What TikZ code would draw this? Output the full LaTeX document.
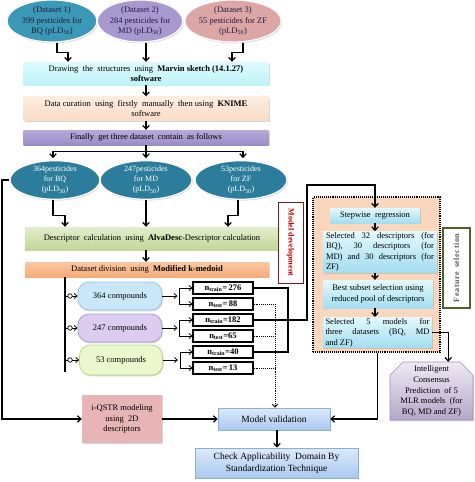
\documentclass[tikz,border=0pt]{standalone}
\usepackage{fontspec}
\setmainfont{Liberation Serif}
\usetikzlibrary{arrows.meta,shapes.geometric,shadows,calc}
\definecolor{dsa}{HTML}{3B98B6}
\definecolor{dsb}{HTML}{A798CF}
\definecolor{dsc}{HTML}{DDA6A6}
\definecolor{navytext}{HTML}{1E1E3C}
\definecolor{teal2}{HTML}{2B7D9B}
\definecolor{mvtop}{HTML}{DDFBFD}
\definecolor{mvbot}{HTML}{BFF2F8}
\definecolor{cutop}{HTML}{FDEDE0}
\definecolor{cubot}{HTML}{FADCC6}
\definecolor{fitop}{HTML}{B7A9DA}
\definecolor{fibot}{HTML}{9C8CC6}
\definecolor{detop}{HTML}{E3EECD}
\definecolor{debot}{HTML}{C2D697}
\definecolor{dvtop}{HTML}{FAC8A2}
\definecolor{dvbot}{HTML}{F4AB78}
\definecolor{cmpa}{HTML}{C9E7F8}
\definecolor{cmpab}{HTML}{96C6E6}
\definecolor{cmpb}{HTML}{DCCDF0}
\definecolor{cmpbb}{HTML}{AB9BD0}
\definecolor{cmpc}{HTML}{EAF8CC}
\definecolor{cmpcb}{HTML}{BCD58A}
\definecolor{peach}{HTML}{FAD6BC}
\definecolor{cytop}{HTML}{E3F9FD}
\definecolor{cybot}{HTML}{A2DDF0}
\definecolor{mdred}{HTML}{7A1C1C}
\definecolor{mdtext}{HTML}{C00000}
\definecolor{olivebd}{HTML}{4F6228}
\definecolor{fstext}{HTML}{595959}
\definecolor{ictop}{HTML}{EEE8F4}
\definecolor{icbot}{HTML}{B4A8C8}
\definecolor{icbd}{HTML}{9C90B4}
\definecolor{pinkbox}{HTML}{E7B5B5}
\definecolor{bltop}{HTML}{DCEAFB}
\definecolor{blbot}{HTML}{A9C8EF}
\definecolor{blbd}{HTML}{8DAED8}
\begin{document}
\begin{tikzpicture}[x=1pt,y=-1pt,
  every node/.style={font=\fontsize{8.5}{10.5}\selectfont},
  arr/.style={line width=1.2pt,-{Straight Barb[length=3.5pt,width=6.5pt]}},
  thinarr/.style={line width=0.8pt,-{Straight Barb[length=2.8pt,width=5pt]}},
  ln/.style={line width=1.1pt},
  dotln/.style={line width=0.9pt,densely dotted},
  shd/.style={drop shadow={opacity=0.3,shadow xshift=1pt,shadow yshift=-1.3pt}},
  ell/.style={ellipse,draw=white,line width=1.2pt,shd,inner sep=0pt,align=center},
  bx/.style={rectangle,inner sep=1pt,align=center,shd},
  cmp/.style={rectangle,rounded corners=11pt,line width=0.8pt,inner sep=1pt,align=center,shd},
  nb/.style={draw,line width=1.2pt,fill=white,minimum width=60pt,minimum height=12pt,inner sep=0pt,font=\bfseries\fontsize{8.5}{9}\selectfont},
  inbx/.style={rectangle,top color=cytop,bottom color=cybot,inner sep=1pt,shd},
  circ/.style={circle,draw,fill=white,line width=0.7pt,minimum size=4.5pt,inner sep=0pt}
]
\useasboundingbox[fill=white] (0,0) rectangle (474,482);

% top datasets
\node[ell,fill=dsa,text=navytext,minimum width=90pt,minimum height=42pt] (d1) at (52,21) {(Dataset 1)\\399 pesticides for\\BQ (pLD\textsubscript{50})};
\node[ell,fill=dsb,text=navytext,minimum width=84pt,minimum height=42pt] (d2) at (140,21) {(Dataset 2)\\284 pesticides for\\MD (pLD\textsubscript{50})};
\node[ell,fill=dsc,text=navytext,minimum width=90pt,minimum height=42pt] (d3) at (233,21) {(Dataset 3)\\55 pesticides for ZF\\(pLD\textsubscript{50})};

\node[bx,top color=mvtop,bottom color=mvbot,minimum width=245pt,minimum height=23pt] (mv) at (146,73.5) {Drawing\ \ the\ \ structures\ \ using\ \ \textbf{Marvin sketch (14.1.27)}\\\textbf{software}};
\node[bx,top color=cutop,bottom color=cubot,minimum width=245pt,minimum height=24pt] (cu) at (146,108.5) {Data curation\ \ using\ \ firstly\ \ manually\ \ then using\ \ \textbf{KNIME}\\software};
\node[bx,top color=fitop,bottom color=fibot,minimum width=245pt,minimum height=15pt] (fin) at (146,137.5) {Finally\ \ get three dataset\ \ contain\ \ as follows};

\draw[arr] ([xshift=5pt]d1.south) -- ++(0,10) -| ([xshift=-78pt]mv.north);
\draw[arr] (mv.north |- d2.south) -- (mv.north);
\draw[arr] ([xshift=10pt]d3.south) -- ++(0,10) -| ([xshift=86pt]mv.north);
\draw[arr] (mv.south) -- (cu.north);
\draw[arr] (cu.south) -- (fin.north);

% second row
\node[ell,fill=teal2,text=white,minimum width=90pt,minimum height=36pt,font=\fontsize{8}{10}\selectfont] (e1) at (55,180) {364pesticides\\for BQ\\(pLD\textsubscript{50})};
\node[ell,fill=teal2,text=white,minimum width=92pt,minimum height=36pt,font=\fontsize{8}{10}\selectfont] (e2) at (146,180) {247pesticides\\for MD\\(pLD\textsubscript{50})};
\node[ell,fill=teal2,text=white,minimum width=92pt,minimum height=36pt,font=\fontsize{8}{10}\selectfont] (e3) at (241,180) {53pesticides\\for ZF\\(pLD\textsubscript{50})};

\draw[ln] (fin.south) -- ++(0,6) coordinate (sp);
\draw[ln] ([xshift=-2pt]e1.north |- sp) -- ([xshift=2pt]e3.north |- sp);
\draw[arr,shorten >=2pt] ([xshift=-2pt]e1.north |- sp) -- ([xshift=-2pt]e1.north);
\draw[arr,shorten >=2pt] (e2.north |- sp) -- (e2.north);
\draw[arr,shorten >=2pt] ([xshift=2pt]e3.north |- sp) -- ([xshift=2pt]e3.north);

\node[bx,top color=detop,bottom color=debot,minimum width=254pt,minimum height=23pt] (de) at (152,238.5) {Descriptor\ \ calculation\ \ using\ \ \textbf{AlvaDesc}-Descriptor calculation};
\node[bx,top color=dvtop,bottom color=dvbot,minimum width=244pt,minimum height=15pt] (dv) at (147,269.5) {Dataset division\ \ using\ \ \textbf{Modified k-medoid}};

\draw[arr] ([xshift=-2pt]e1.south) -- ++(0,16) -| ([xshift=-87pt]de.north);
\draw[arr] (e2.south) -- (e2.south |- de.north);
\draw[arr] ([xshift=-3pt]e3.south) -- ++(0,16) -| ([xshift=76pt]de.north);
\draw[arr] (e2.south |- de.south) -- (e2.south |- dv.north);

% compounds
\draw[line width=1.6pt] ([xshift=-82pt]dv.south) -- ++(0,95) coordinate (vb);
\node[cmp,fill=cmpa,draw=cmpab,minimum width=84pt,minimum height=28pt] (c1) at (120,296) {364 compounds};
\node[cmp,fill=cmpb,draw=cmpbb,minimum width=84pt,minimum height=28pt] (c2) at (120,328) {247 compounds};
\node[cmp,fill=cmpc,draw=cmpcb,minimum width=83pt,minimum height=30pt] (c3) at (121,360) {53 compounds};

\draw[thinarr] (vb |- c1.west) -- (c1.west);
\draw[thinarr] (vb |- c2.west) -- (c2.west);
\draw[thinarr] (vb |- c3.west) -- (c3.west);
\node[circ] (o1) at ([xshift=5pt]vb |- c1.west) {};
\node[circ] (o2) at ([xshift=5pt]vb |- c2.west) {};
\node[circ] (o3) at ([xshift=5pt]vb |- c3.west) {};

\node[nb] (t1) at (223,288) {n\textsubscript{train}=\,276};
\node[nb] (s1) at (223,304) {n\textsubscript{test}=\,88};
\node[nb] (t2) at (223,320) {n\textsubscript{train}=182};
\node[nb] (s2) at (223,336) {n\textsubscript{test}=65};
\node[nb] (t3) at (223,352) {n\textsubscript{train}=40};
\node[nb] (s3) at (223,368) {n\textsubscript{test}=\,13};

\draw[thinarr] (c1.east) -- ++(15,0) coordinate (f1);
\draw[line width=0.8pt] ([xshift=2pt]f1 |- t1.west) -- ([xshift=2pt]f1 |- s1.west);
\draw[thinarr] ([xshift=2pt]f1 |- t1.west) -- (t1.west);
\draw[thinarr] ([xshift=2pt]f1 |- s1.west) -- (s1.west);
\draw[thinarr] (c2.east) -- ++(15,0) coordinate (f2);
\draw[line width=0.8pt] ([xshift=2pt]f2 |- t2.west) -- ([xshift=2pt]f2 |- s2.west);
\draw[thinarr] ([xshift=2pt]f2 |- t2.west) -- (t2.west);
\draw[thinarr] ([xshift=2pt]f2 |- s2.west) -- (s2.west);
\draw[thinarr] (c3.east) -- ++(15,0) coordinate (f3);
\draw[line width=0.8pt] ([xshift=2pt]f3 |- t3.west) -- ([xshift=2pt]f3 |- s3.west);
\draw[thinarr] ([xshift=2pt]f3 |- t3.west) -- (t3.west);
\draw[thinarr] ([xshift=2pt]f3 |- s3.west) -- (s3.west);

% model development label
\node[draw=mdred,line width=1pt,fill=white,rotate=-90,minimum width=81pt,minimum height=25pt,inner sep=0pt,text=mdtext,font=\bfseries\fontsize{8}{9}\selectfont] (md) at (290.5,242.5) {Model development};

% feature selection region
\node[draw,densely dotted,line width=1.1pt,fill=peach,minimum width=127pt,minimum height=155pt,inner sep=0pt] (fs) at (376.5,274.5) {};
\node[inbx,minimum width=90pt,minimum height=15pt] (sw) at (375,215.5) {Stepwise\ \ regression};
\node[inbx,minimum width=114pt,minimum height=40pt,align=left] (s32) at (380,252) {\makebox[108pt][s]{Selected 32 descriptors (for}\\\makebox[108pt][s]{BQ), 30 descriptors (for}\\\makebox[108pt][s]{MD) and 30 descriptors (for}\\ZF)};
\node[inbx,minimum width=110pt,minimum height=28pt,align=center] (bs) at (378,294) {Best subset selection using\\reduced pool of descriptors};
\node[inbx,minimum width=109pt,minimum height=29pt,align=left] (s5) at (377.5,332.5) {\makebox[104pt][s]{Selected 5 models for}\\\makebox[104pt][s]{three datasets (BQ, MD}\\and ZF)};

\draw[arr] (sw.south) -- (sw.south |- s32.north);
\draw[arr] (sw.south |- s32.south) -- (sw.south |- bs.north);
\draw[arr] (sw.south |- bs.south) -- (sw.south |- s5.north);

\node[draw=olivebd,line width=1.2pt,fill=white,rotate=90,minimum width=80pt,minimum height=27pt,inner sep=0pt,text=fstext,font=\bfseries\fontsize{8}{9}\selectfont] (fsel) at (456.5,268) {F\kern.6pt e\kern.6pt a\kern.6pt t\kern.6pt u\kern.6pt r\kern.6pt e\ \ s\kern.6pt e\kern.6pt l\kern.6pt e\kern.6pt c\kern.6pt t\kern.6pt i\kern.6pt o\kern.6pt n};

% train connections
\coordinate (jx) at (288,0);
\coordinate (rx) at (307,185);
\draw[ln] (t1.east) -- (jx |- t1.east) -- (jx |- t3.east) -- (t3.east);
\draw[arr] (t2.east) -- (rx |- t2.east) -- (rx) -| (sw.north);

% test connections
\coordinate (dx) at (275,0);
\draw[dotln] (s1.east) -- (dx |- s1.east);
\draw[dotln] (s2.east) -- (dx |- s2.east);
\draw[dotln] (s3.east) -- (dx |- s3.east);

% bottom
\node[bx,fill=pinkbox,minimum width=80pt,minimum height=48pt] (iq) at (122,419) {i-QSTR modeling\\using\ \ 2D\\descriptors};
\node[bx,top color=bltop,bottom color=blbot,draw=blbd,line width=0.6pt,minimum width=112pt,minimum height=22pt,font=\fontsize{9.5}{11}\selectfont] (mval) at (274,419) {Model validation};
\node[bx,top color=bltop,bottom color=blbot,draw=blbd,line width=0.6pt,minimum width=163pt,minimum height=30pt,font=\fontsize{9.5}{12}\selectfont] (ca) at (276.5,463) {Check Applicability\ \ Domain By\\Standardization Technique};

\draw[dotln,-{Straight Barb[length=2.8pt,width=5pt]}] (dx |- s1.east) -- (dx |- mval.north);

\coordinate (lx) at (2,0);
\draw[arr] (e1.west) -- (lx |- e1.west) -- (lx |- iq.west) -- (iq.west);
\draw[arr] (iq.east) -- (mval.west);
\draw[arr] (s5.south |- fs.south) -- (s5.south |- mval.east) -- (mval.east);
\draw[arr] ([xshift=3pt]mval.south) -- ([xshift=3pt]mval.south |- ca.north);

% intelligent consensus
\path[top color=ictop,bottom color=icbot,draw=icbd,line width=0.6pt,drop shadow={opacity=0.3,shadow xshift=1pt,shadow yshift=-1.3pt}]
  (390,375) -- (403,362) -- (460,362) -- (473,375) -- (473,420) -- (390,420) -- cycle;
\node[minimum width=83pt,minimum height=58pt,inner sep=0pt,align=center,font=\fontsize{8.5}{10.6}\selectfont] (ic) at (431.5,391) {Intelligent\\Consensus\\Prediction\ \ of 5\\MLR models\ \ (for\\BQ, MD and ZF)};
\draw[arr] (s5.east) -- ++(16,0) coordinate (k) -- (k |- ic.north);

\end{tikzpicture}
\end{document}
